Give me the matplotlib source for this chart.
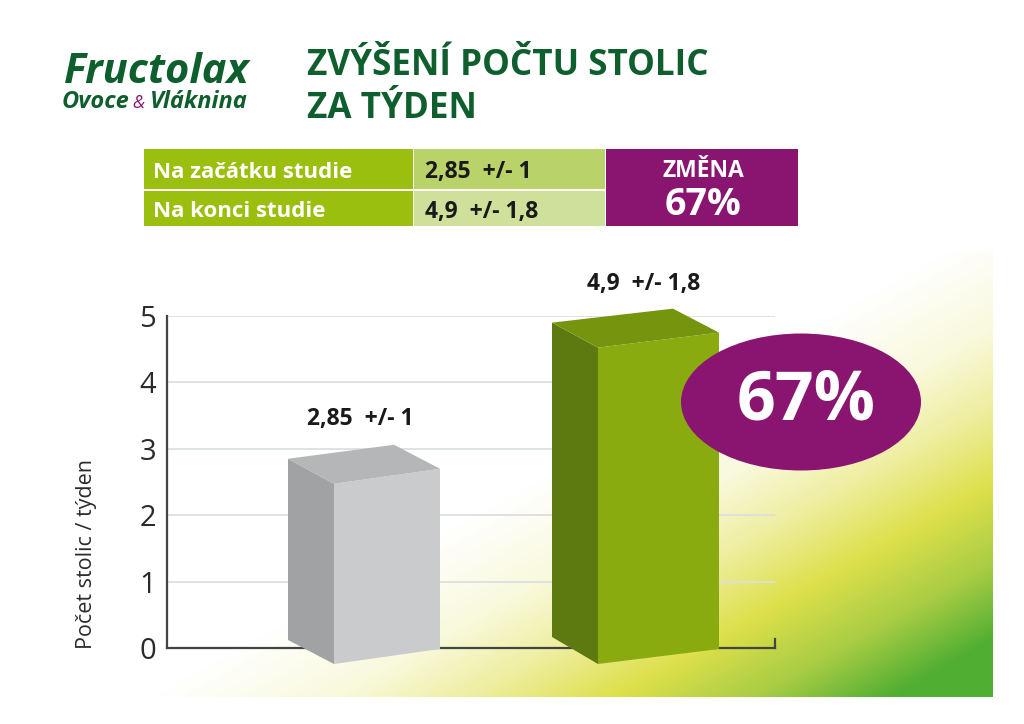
import numpy as np
import matplotlib
matplotlib.use('Agg')
import matplotlib.pyplot as plt
from matplotlib.colors import LinearSegmentedColormap
from matplotlib.patches import Polygon, Ellipse, Rectangle

plt.rcParams['font.family'] = ['Open Sans', 'DejaVu Sans']

# data
values = [2.85, 4.9]
value_labels = ['2,85  +/- 1', '4,9  +/- 1,8']
y_ticks = [0, 1, 2, 3, 4, 5]
y_label = 'Počet stolic / týden'
title_lines = ['ZVÝŠENÍ POČTU STOLIC', 'ZA TÝDEN']
table_rows = ['Na začátku studie', 'Na konci studie']
table_vals = ['2,85  +/- 1', '4,9  +/- 1,8']
change_head = 'ZMĚNA'
change_val = '67%'

DARK = '#0f5f2e'
PURPLE = '#8a1570'

W, H = 1024, 724
fig = plt.figure(figsize=(W / 100, H / 100), dpi=100, facecolor='white')

# layer in pixel coordinates for everything that is not the chart
bg = fig.add_axes([0, 0, 1, 1])
bg.set_xlim(0, W)
bg.set_ylim(H, 0)
bg.axis('off')

# gradient in the bottom right corner
yy, xx = np.mgrid[250:697, 0:993]
t = np.clip((0.56 * xx + yy - 780) / 473, 0, 1)
cmap = LinearSegmentedColormap.from_list('bg', [
    (0, '#ffffff'), (0.22, '#f9f9dc'), (0.38, '#eeeea0'),
    (0.55, '#dde04a'), (0.72, '#a8cc44'), (0.88, '#50ae32'), (1, '#50ae32')])
bg.imshow(t, cmap=cmap, vmin=0, vmax=1, extent=(0, 993, 697, 250), aspect='auto', zorder=0)
bg.set_xlim(0, W)
bg.set_ylim(H, 0)

# logo
bg.text(64, 83, 'Fructolax', color=DARK, fontsize=30, fontweight='bold', style='italic', va='baseline')
bg.text(62, 108, 'Ovoce', color=DARK, fontsize=17, fontweight='bold', style='italic', va='baseline')
bg.text(132, 108, '&', color=PURPLE, fontsize=13, style='italic', va='baseline')
bg.text(150, 108, 'Vláknina', color=DARK, fontsize=17, fontweight='bold', style='italic', va='baseline')

# title
bg.text(307, 75, title_lines[0], color=DARK, fontsize=25.2, fontweight='bold', va='baseline')
bg.text(307, 118, title_lines[1], color=DARK, fontsize=25.2, fontweight='bold', va='baseline')

# table on top
bg.add_patch(Rectangle((144, 149), 269, 40, fc='#9bbf0f', ec='none'))
bg.add_patch(Rectangle((144, 191), 269, 35, fc='#9bbf0f', ec='none'))
bg.add_patch(Rectangle((414, 149), 191, 40, fc='#b9d36a', ec='none'))
bg.add_patch(Rectangle((414, 191), 191, 35, fc='#cfe09a', ec='none'))
bg.add_patch(Rectangle((606, 149), 192, 77, fc=PURPLE, ec='none'))
bg.text(153, 178, table_rows[0], color='white', fontsize=16, fontweight='bold', va='baseline')
bg.text(153, 217, table_rows[1], color='white', fontsize=16, fontweight='bold', va='baseline')
bg.text(425, 178, table_vals[0], color='#1a1a1a', fontsize=16.5, fontweight='bold', va='baseline')
bg.text(425, 218, table_vals[1], color='#1a1a1a', fontsize=16.5, fontweight='bold', va='baseline')
bg.text(703, 177, change_head, color='white', fontsize=16.5, fontweight='bold', ha='center', va='baseline')
bg.text(703, 215, change_val, color='white', fontsize=27, fontweight='bold', ha='center', va='baseline')

# chart
ax = fig.add_axes([167 / W, 1 - 648 / H, (775 - 167) / W, (648 - 316) / H])
ax.patch.set_alpha(0)
PX_X = 271.5
PX_Y = 66.4
ax.set_xlim((167 - 364) / PX_X, (775 - 364) / PX_X)
ax.set_ylim(0, 5)
ax.set_yticks(y_ticks)
ax.set_xticks([])
ax.tick_params(axis='y', length=0, labelsize=21, pad=8, colors='#2b2b2b')
for s in ['top', 'right']:
    ax.spines[s].set_visible(False)
for s in ['left', 'bottom']:
    ax.spines[s].set_color('#444444')
    ax.spines[s].set_linewidth(1.6)
for v in y_ticks[1:]:
    ax.axhline(v, color='#dcdfe0', lw=1.3, zorder=1)
ax.plot([1, 1], [0, 0.13], transform=ax.get_yaxis_transform(), color='#444444', lw=1.6, clip_on=False, zorder=2)
ax.set_ylabel(y_label, fontsize=15.5, color='#2b2b2b', y=0.283, labelpad=30)

# 3d boxes: width of the front face, side depth and colours per bar
widths = [106, 121]
bases = [8, 11]
depth = 46
styles = [('#c9cbcd', '#a0a2a4', '#b4b6b8'), ('#8aab10', '#5d7a10', '#76950f')]


def box(i, v, front_w, base_px, colors):
    # left back corner sits at the value
    left = i - (front_w + depth) / 2 / PX_X
    mid = left + depth / PX_X
    right = mid + front_w / PX_X
    drop = 25 / PX_Y
    rise = 15 / PX_Y
    back_x = left + front_w / PX_X
    base = base_px / PX_Y
    low = -16 / PX_Y
    front, side, top = colors
    ax.add_patch(Polygon([(mid, v - drop), (right, v - drop + rise), (right, low + rise), (mid, low)],
                         fc=front, ec='none', zorder=3, clip_on=False))
    ax.add_patch(Polygon([(left, v), (mid, v - drop), (mid, low), (left, base)],
                         fc=side, ec='none', zorder=3, clip_on=False))
    ax.add_patch(Polygon([(left, v), (mid, v - drop), (right, v - drop + rise), (back_x, v + rise - 1 / PX_Y)],
                         fc=top, ec='none', zorder=3, clip_on=False))


label_dx = [-0.013, 0.03]
label_dy = [0.60, 0.58]
for i, v in enumerate(values):
    box(i, v, widths[i], bases[i], styles[i])
    ax.text(i + label_dx[i], v + label_dy[i], value_labels[i],
            ha='center', va='center', fontsize=16.5, fontweight='bold', color='#1a1a1a', clip_on=False)

# purple ellipse on top of it all
over = fig.add_axes([0, 0, 1, 1])
over.set_xlim(0, W)
over.set_ylim(H, 0)
over.axis('off')
over.add_patch(Ellipse((801, 402), 240, 137, fc=PURPLE, ec='none'))
over.text(806, 419, change_val, color='white', fontsize=49, fontweight='bold', ha='center', va='baseline')

fig.savefig('out.png', dpi=100)
